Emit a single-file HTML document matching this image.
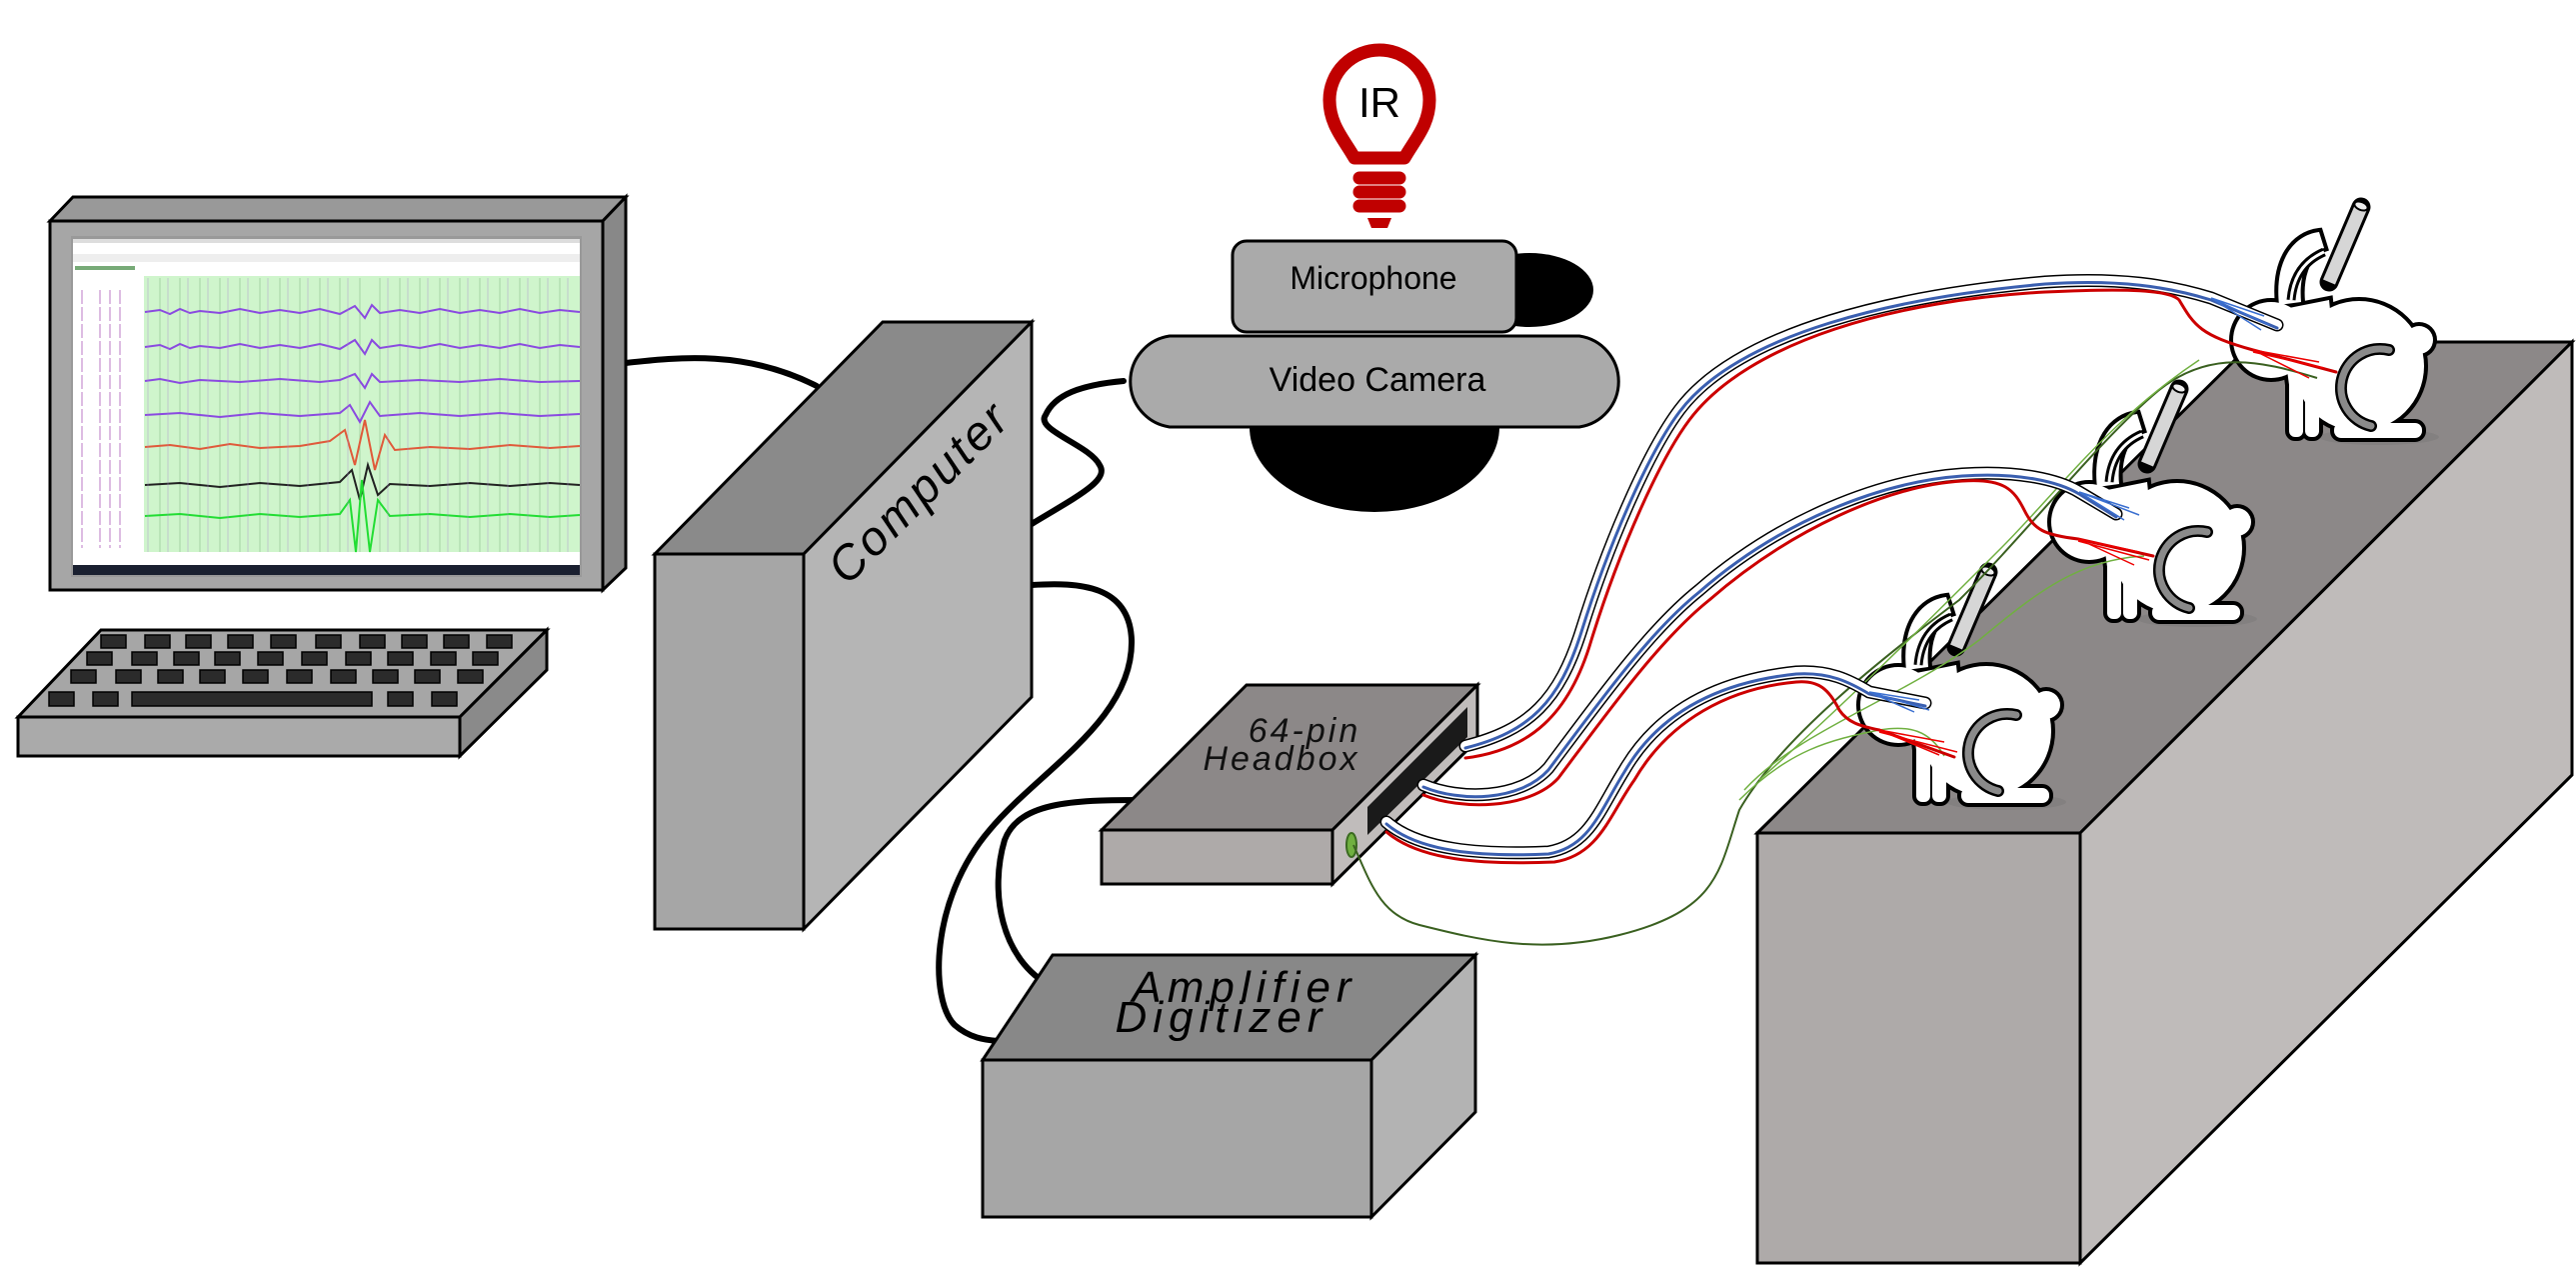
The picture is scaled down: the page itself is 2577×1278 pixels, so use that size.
<!DOCTYPE html>
<html><head><meta charset="utf-8"><style>
html,body{margin:0;padding:0;background:#fff;}
svg{display:block;}
text{font-family:"Liberation Sans",sans-serif;}
</style></head><body>
<svg width="2577" height="1278" viewBox="0 0 2577 1278" xmlns="http://www.w3.org/2000/svg">
<defs>
<g id="rab">
  <ellipse cx="200" cy="247" rx="60" ry="8" fill="#777" opacity="0.45"/>
  <g stroke="#000" stroke-width="8" fill="#000">
    <circle cx="180" cy="176" r="65"/>
    <circle cx="240" cy="150" r="14"/>
    <ellipse cx="92" cy="150" rx="38" ry="38"/>
    <path d="M100 115 C95 70 115 45 140 42 L145 58 C125 65 120 90 122 112 Z"/>
    <rect x="110" y="185" width="14" height="62" rx="6"/>
    <rect x="126" y="185" width="14" height="62" rx="6"/>
    <rect x="155" y="233" width="88" height="15" rx="7"/>
    <path d="M100 120 L150 110 L160 210 L110 195 Z"/>
  </g>
  <g fill="#fff">
    <circle cx="180" cy="176" r="65"/>
    <circle cx="240" cy="150" r="14"/>
    <ellipse cx="92" cy="150" rx="38" ry="38"/>
    <path d="M100 115 C95 70 115 45 140 42 L145 58 C125 65 120 90 122 112 Z"/>
    <rect x="110" y="185" width="14" height="62" rx="6"/>
    <rect x="126" y="185" width="14" height="62" rx="6"/>
    <rect x="155" y="233" width="88" height="15" rx="7"/>
    <path d="M100 120 L150 110 L160 210 L110 195 Z"/>
  </g>
  <path d="M112 110 Q115 75 145 62" fill="none" stroke="#000" stroke-width="9"/>
  <path d="M112 110 Q115 75 145 62" fill="none" stroke="#fff" stroke-width="3"/>
  <path d="M210 160 A27 27 0 1 0 192 236" fill="none" stroke="#000" stroke-width="12" stroke-linecap="round"/>
  <path d="M210 160 A27 27 0 1 0 192 236" fill="none" stroke="#8a8a8a" stroke-width="7" stroke-linecap="round"/>
  <line x1="182" y1="17" x2="150" y2="92" stroke="#000" stroke-width="19" stroke-linecap="round"/>
  <line x1="182" y1="17" x2="150" y2="92" stroke="#d6d6d6" stroke-width="13"/>
  <ellipse cx="182" cy="16" rx="7" ry="4" fill="#eee" stroke="#000" stroke-width="2" transform="rotate(22 182 16)"/>
</g>
</defs>

<!-- cables black -->
<g fill="none" stroke="#000" stroke-width="6" stroke-linecap="round">
  <path d="M626 363 C680 357 746 350 817 386"/>
  <path d="M1032 524 C1080 495 1110 480 1100 465 C1090 445 1035 430 1046 415 C1055 395 1080 385 1124 381"/>
  <path d="M1032 585 C1080 582 1130 585 1132 640 C1134 720 1040 770 990 830 C930 900 930 1000 955 1025 C970 1038 985 1040 999 1041"/>
  <path d="M1148 800 C1080 800 1020 800 1005 840 C990 890 1000 960 1053 987"/>
</g>

<!-- IR bulb -->
<g fill="none" stroke="#c00000" stroke-width="13" stroke-linecap="round">
  <path d="M1355 158 C1345 140 1330 125 1330 100 A50 50 0 1 1 1430 100 C1430 125 1415 140 1405 158 Z" stroke-linejoin="round"/>
  <line x1="1360" y1="178" x2="1400" y2="178"/>
  <line x1="1360" y1="192" x2="1400" y2="192"/>
  <line x1="1360" y1="206" x2="1400" y2="206"/>
</g>
<path d="M1368 218 L1392 218 L1388 228 L1372 228 Z" fill="#c00000"/>
<text x="1380" y="117" font-size="42" text-anchor="middle">IR</text>

<!-- mic & camera -->
<ellipse cx="1530" cy="290" rx="64" ry="37" fill="#000"/>
<path d="M1250 427 A125 85 0 0 0 1500 427 Z" fill="#000"/>
<rect x="1233" y="241" width="284" height="91" rx="14" fill="#aaa" stroke="#000" stroke-width="3"/>
<text x="1374" y="289" font-size="32" text-anchor="middle">Microphone</text>
<path d="M1170 336 L1580 336 A46 46 0 0 1 1580 427 L1170 427 A46 46 0 0 1 1170 336 Z" fill="#aaa" stroke="#000" stroke-width="3"/>
<text x="1378" y="391" font-size="34" text-anchor="middle">Video Camera</text>

<!-- monitor -->
<polygon points="50,221 73,197 626,197 603,221" fill="#999" stroke="#000" stroke-width="3"/>
<polygon points="603,221 626,197 626,568 603,590" fill="#888" stroke="#000" stroke-width="3"/>
<rect x="50" y="221" width="553" height="369" fill="#a6a6a6" stroke="#000" stroke-width="3"/>
<rect x="71" y="236" width="511" height="341" fill="#999"/>
<rect x="73" y="239" width="507" height="326" fill="#fff"/>
<rect x="73" y="239" width="507" height="4" fill="#ddd"/>
<rect x="73" y="254" width="507" height="8" fill="#eee"/>
<rect x="75" y="266" width="60" height="4" fill="#7a7"/>
<g stroke="#c890d0" stroke-width="2" stroke-dasharray="14 3">
<path d="M82 290V548M100 290V548M110 290V548M120 290V548" opacity="0.6"/>
</g>
<rect x="144" y="276" width="436" height="276" fill="#cff5cc"/>
<g stroke="#9c9" stroke-width="0.8">
<path d="M160 278V552M180 278V552M200 278V552M220 278V552M240 278V552M260 278V552M280 278V552M300 278V552M320 278V552M340 278V552M360 278V552M380 278V552M400 278V552M420 278V552M440 278V552M460 278V552M480 278V552M500 278V552M520 278V552M540 278V552M560 278V552"/>
</g>
<g fill="none" stroke-width="2">
<path d="M145 312 L160 310 170 314 180 309 190 313 200 311 220 313 240 309 260 313 280 310 300 313 320 309 340 314 355 306 365 318 372 305 380 313 400 310 420 313 440 309 460 313 480 310 500 313 520 309 540 313 560 310 580 312" stroke="#8a4ae0"/>
<path d="M145 347 L160 345 170 349 180 344 190 348 200 346 220 348 240 344 260 348 280 345 300 348 320 344 340 349 355 340 365 354 372 340 380 348 400 345 420 348 440 344 460 348 480 345 500 348 520 344 540 348 560 345 580 347" stroke="#8a4ae0"/>
<path d="M145 381 L160 379 180 383 200 380 240 382 280 379 320 382 340 380 355 374 365 388 372 374 380 382 420 380 460 382 500 379 540 382 580 381" stroke="#8a4ae0"/>
<path d="M145 415 L180 413 220 417 260 413 300 416 340 413 350 405 360 422 370 402 380 416 420 413 460 416 500 413 540 416 580 414" stroke="#8a4ae0"/>
<path d="M145 447 L170 445 200 449 230 444 260 448 300 446 330 441 345 430 355 465 365 420 375 470 385 435 395 450 430 447 470 449 510 445 550 448 580 446" stroke="#e05a3a"/>
<path d="M145 485 L180 483 220 487 260 483 300 486 340 482 352 470 360 500 368 465 378 495 390 484 430 486 470 483 510 486 550 483 580 485" stroke="#222"/>
<path d="M145 516 L180 514 220 518 260 514 300 517 340 514 350 500 356 552 362 480 370 552 378 500 390 516 430 514 470 517 510 514 550 517 580 515" stroke="#22dd33"/>
</g>
<g stroke="#a8c" stroke-width="0.7" opacity="0.6"><path d="M148 278V552M168 278V552M188 278V552M208 278V552M228 278V552M248 278V552M268 278V552M288 278V552M308 278V552M328 278V552M348 278V552M388 278V552M408 278V552M428 278V552M448 278V552M468 278V552M488 278V552M508 278V552M528 278V552M548 278V552M568 278V552"/></g>
<rect x="73" y="565" width="507" height="10" fill="#1a2030"/>

<!-- keyboard -->
<polygon points="18,717 101,630 547,630 460,717" fill="#a6a6a6" stroke="#000" stroke-width="3"/>
<polygon points="460,717 547,630 547,670 460,756" fill="#8a8a8a" stroke="#000" stroke-width="3"/>
<rect x="18" y="717" width="442" height="39" fill="#aaa" stroke="#000" stroke-width="3"/>
<g fill="#2b2b2b" stroke="#000" stroke-width="1.5">
<rect x="101" y="635" width="25" height="13"/><rect x="145" y="635" width="25" height="13"/><rect x="186" y="635" width="25" height="13"/><rect x="228" y="635" width="25" height="13"/><rect x="271" y="635" width="25" height="13"/><rect x="316" y="635" width="25" height="13"/><rect x="360" y="635" width="25" height="13"/><rect x="402" y="635" width="25" height="13"/><rect x="444" y="635" width="25" height="13"/><rect x="487" y="635" width="25" height="13"/>
<rect x="87" y="652" width="25" height="13"/><rect x="132" y="652" width="25" height="13"/><rect x="174" y="652" width="25" height="13"/><rect x="215" y="652" width="25" height="13"/><rect x="258" y="652" width="25" height="13"/><rect x="302" y="652" width="25" height="13"/><rect x="346" y="652" width="25" height="13"/><rect x="388" y="652" width="25" height="13"/><rect x="431" y="652" width="25" height="13"/><rect x="473" y="652" width="25" height="13"/>
<rect x="71" y="670" width="25" height="13"/><rect x="116" y="670" width="25" height="13"/><rect x="158" y="670" width="25" height="13"/><rect x="200" y="670" width="25" height="13"/><rect x="243" y="670" width="25" height="13"/><rect x="287" y="670" width="25" height="13"/><rect x="331" y="670" width="25" height="13"/><rect x="373" y="670" width="25" height="13"/><rect x="415" y="670" width="25" height="13"/><rect x="458" y="670" width="25" height="13"/>
<rect x="49" y="692" width="25" height="14"/><rect x="93" y="692" width="25" height="14"/><rect x="132" y="692" width="240" height="14"/><rect x="388" y="692" width="25" height="14"/><rect x="432" y="692" width="25" height="14"/>
</g>

<!-- computer -->
<polygon points="655,554 883,322 1032,322 804,554" fill="#8a8a8a" stroke="#000" stroke-width="3"/>
<polygon points="804,554 1032,322 1032,697 804,929" fill="#b5b5b5" stroke="#000" stroke-width="3"/>
<rect x="655" y="554" width="149" height="375" fill="#a6a6a6" stroke="#000" stroke-width="3"/>
<text x="920" y="508" font-size="48" font-style="italic" letter-spacing="3" text-anchor="middle" transform="rotate(-45 920 493)">Computer</text>

<!-- amplifier -->
<polygon points="983,1060 1053,955 1476,955 1372,1060" fill="#888" stroke="#000" stroke-width="3"/>
<polygon points="1372,1060 1476,955 1476,1112 1372,1217" fill="#b3b3b3" stroke="#000" stroke-width="3"/>
<rect x="983" y="1060" width="389" height="157" fill="#a6a6a6" stroke="#000" stroke-width="3"/>
<text x="1245" y="1002" font-size="44" font-style="italic" letter-spacing="6" text-anchor="middle">Amplifier</text>
<text x="1222" y="1032" font-size="44" font-style="italic" letter-spacing="6" text-anchor="middle">Digitizer</text>

<!-- headbox -->
<polygon points="1102,830 1247,685 1478,685 1333,830" fill="#8c8888" stroke="#000" stroke-width="3"/>
<polygon points="1333,830 1478,685 1478,740 1333,884" fill="#c0bcbb" stroke="#000" stroke-width="3"/>
<polygon points="1368,835 1368,807 1468,707 1468,737" fill="#1a1a1a"/>
<rect x="1102" y="830" width="231" height="54" fill="#aeaaa9" stroke="#000" stroke-width="3"/>
<ellipse cx="1352" cy="845" rx="5" ry="12" fill="#70b040" stroke="#3a6a20" stroke-width="2"/>
<text x="1305" y="742" font-size="34" font-style="italic" letter-spacing="3" text-anchor="middle" fill="#111">64-pin</text>
<text x="1282" y="770" font-size="34" font-style="italic" letter-spacing="3" text-anchor="middle" fill="#111">Headbox</text>

<!-- platform -->
<polygon points="1758,833 2254,342 2573,342 2081,833" fill="#8c8888" stroke="#000" stroke-width="3"/>
<polygon points="2081,833 2573,342 2573,775 2081,1263" fill="#bfbbba" stroke="#000" stroke-width="3"/>
<rect x="1758" y="833" width="323" height="430" fill="#aeaaa9" stroke="#000" stroke-width="3"/>

<!-- rabbits -->
<use href="#rab" transform="translate(2180 190)"/>
<use href="#rab" transform="translate(1998 372)"/>
<use href="#rab" transform="translate(1807 555)"/>

<!-- green wires -->
<g fill="none" stroke-width="1.5">
<path d="M1354 845 C1370 880 1380 915 1420 925 C1480 940 1540 955 1620 935 C1720 910 1720 870 1740 810 C1780 740 1880 660 1960 600 C2030 530 2100 440 2160 390 C2210 350 2260 360 2318 378" stroke="#3a6020" stroke-width="2"/>
<path d="M1745 790 C1800 730 1900 700 1980 640 C2040 590 2080 560 2145 556" stroke="#70b040"/>
<path d="M1740 800 C1790 750 1830 740 1880 730 C1910 725 1930 730 1945 756" stroke="#70b040"/>
<path d="M1760 780 C1850 700 1930 620 2000 550 C2060 490 2110 420 2200 360" stroke="#70b040"/>
</g>

<!-- rabbit cables -->
<g fill="none" stroke-linecap="round">
<path d="M1466 746 C1530 730 1560 700 1582 630 C1610 540 1650 450 1680 410 C1740 330 1900 295 2046 282 C2120 277 2170 285 2212 298 L2278 325" stroke="#000" stroke-width="13"/>
<path d="M1466 746 C1530 730 1560 700 1582 630 C1610 540 1650 450 1680 410 C1740 330 1900 295 2046 282 C2120 277 2170 285 2212 298 L2278 325" stroke="#fff" stroke-width="10"/>
<path d="M1466 748 C1530 732 1560 702 1582 632 C1610 542 1650 452 1680 412 C1740 332 1900 297 2046 284 C2120 279 2170 287 2212 300 L2278 328" stroke="#3a5fb0" stroke-width="3"/>
<path d="M1466 758 C1530 750 1570 715 1592 640 C1620 550 1660 460 1690 420 C1750 340 1900 300 2046 292 C2130 288 2170 290 2180 300 C2195 325 2200 335 2254 350 L2337 372" stroke="#cc0000" stroke-width="3"/>
<path d="M1424 785 C1460 800 1520 800 1549 768 C1600 700 1650 630 1700 590 C1780 520 1880 480 1963 474 C2020 470 2060 480 2080 492 L2117 514" stroke="#000" stroke-width="13"/>
<path d="M1424 785 C1460 800 1520 800 1549 768 C1600 700 1650 630 1700 590 C1780 520 1880 480 1963 474 C2020 470 2060 480 2080 492 L2117 514" stroke="#fff" stroke-width="10"/>
<path d="M1424 787 C1460 802 1520 802 1549 770 C1600 702 1650 632 1700 592 C1780 522 1880 482 1963 476 C2020 472 2060 482 2080 494 L2117 517" stroke="#3a5fb0" stroke-width="3"/>
<path d="M1424 795 C1460 810 1530 810 1559 778 C1610 710 1660 640 1710 600 C1790 530 1890 485 1963 481 C2005 478 2015 490 2025 510 C2035 530 2045 535 2079 539 L2154 556" stroke="#cc0000" stroke-width="3"/>
<path d="M1387 822 C1420 850 1480 855 1549 852 C1590 845 1600 810 1625 770 C1660 710 1720 680 1797 672 C1830 670 1850 680 1870 692 L1926 703" stroke="#000" stroke-width="13"/>
<path d="M1387 822 C1420 850 1480 855 1549 852 C1590 845 1600 810 1625 770 C1660 710 1720 680 1797 672 C1830 670 1850 680 1870 692 L1926 703" stroke="#fff" stroke-width="10"/>
<path d="M1387 824 C1420 852 1480 857 1549 854 C1590 847 1600 812 1625 772 C1660 712 1720 682 1797 674 C1830 672 1850 682 1870 694 L1926 706" stroke="#3a5fb0" stroke-width="3"/>
<path d="M1387 832 C1420 860 1480 865 1555 862 C1600 855 1610 815 1635 780 C1670 720 1730 688 1797 682 C1820 680 1830 690 1840 710 C1848 722 1860 726 1880 730 L1955 757" stroke="#cc0000" stroke-width="3"/>
</g>
<g stroke-width="1.5" fill="none">
<path d="M2212 298 L2265 316 M2212 298 L2270 325 M2212 298 L2262 330" stroke="#3a6fd0"/>
<path d="M2254 350 L2320 362 M2254 350 L2310 378 M2254 352 L2325 368" stroke="#ee0000"/>
<path d="M2080 492 L2130 508 M2080 492 L2125 520 M2080 492 L2140 515" stroke="#3a6fd0"/>
<path d="M2079 539 L2140 552 M2079 539 L2135 565 M2079 541 L2150 560" stroke="#ee0000"/>
<path d="M1870 692 L1920 700 M1870 692 L1915 712 M1870 692 L1930 710" stroke="#3a6fd0"/>
<path d="M1880 730 L1945 742 M1880 730 L1940 755 M1880 732 L1958 752" stroke="#ee0000"/>
</g>
</svg>
</body></html>
